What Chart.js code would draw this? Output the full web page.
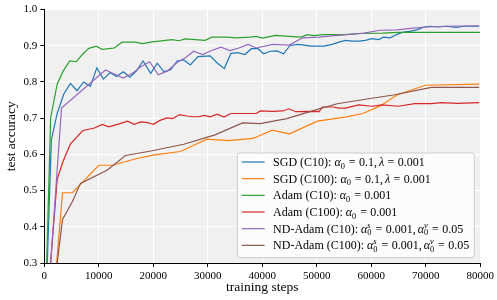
<!DOCTYPE html>
<html>
<head>
<meta charset="utf-8">
<script src="https://cdn.jsdelivr.net/npm/chart.js@4.4.1/dist/chart.umd.min.js"></script>
<style>
  html, body { margin: 0; padding: 0; background: #fff; }
  #wrap { width: 497px; height: 300px; }
</style>
</head>
<body>
<div id="wrap"><canvas id="accChart" width="497" height="300"></canvas></div>
<script>
// --- data ---
const sgdC10Steps = [0, 1300, 2360, 3580, 4800, 6000, 7220, 8440, 9640, 10850, 12070, 13270, 14490, 15710, 16910, 18130, 19530, 20730, 21940, 23160, 24360, 25580, 26800, 28180, 30430, 31630, 33030, 34250, 35450, 36800, 38000, 39220, 40250, 41450, 42670, 43890, 45090, 46490, 47700, 48900, 51340, 52850, 54070, 55270, 56490, 57700, 58900, 60120, 61340, 62250, 63450, 64670, 65880, 67090, 68300, 69520, 70720, 72250, 73760, 75580, 77090, 79800];
const sgdC10Acc = [0.055, 0.64, 0.713, 0.767, 0.796, 0.776, 0.80, 0.788, 0.839, 0.808, 0.826, 0.815, 0.828, 0.813, 0.831, 0.858, 0.824, 0.852, 0.829, 0.833, 0.858, 0.861, 0.847, 0.87, 0.872, 0.854, 0.837, 0.879, 0.881, 0.876, 0.892, 0.892, 0.878, 0.885, 0.886, 0.878, 0.901, 0.904, 0.902, 0.899, 0.899, 0.904, 0.91, 0.915, 0.913, 0.913, 0.915, 0.92, 0.917, 0.924, 0.922, 0.931, 0.938, 0.94, 0.944, 0.951, 0.954, 0.952, 0.954, 0.951, 0.954, 0.954];

const sgdC100Steps = [1160, 3340, 5160, 10000, 12540, 16800, 19940, 24980, 29820, 33760, 38300, 41810, 44980, 50120, 55200, 58450, 61630, 64800, 69940, 79800];
const sgdC100Acc = [0.1, 0.494, 0.494, 0.57, 0.57, 0.588, 0.598, 0.608, 0.642, 0.638, 0.644, 0.667, 0.657, 0.692, 0.703, 0.713, 0.734, 0.765, 0.791, 0.794];

const adamC10Steps = [0, 1160, 2360, 3450, 4670, 5890, 6980, 8180, 9530, 10620, 12850, 14250, 16670, 18000, 19820, 22250, 23450, 24670, 25890, 29520, 30720, 33450, 35270, 37700, 38800, 40000, 42430, 44980, 47090, 48300, 49520, 51100, 55000, 58000, 62000, 65000, 80000];
const adamC10Acc = [0.06, 0.70, 0.794, 0.83, 0.858, 0.856, 0.876, 0.893, 0.899, 0.89, 0.894, 0.91, 0.91, 0.906, 0.911, 0.915, 0.917, 0.914, 0.919, 0.915, 0.924, 0.924, 0.922, 0.924, 0.926, 0.921, 0.929, 0.926, 0.924, 0.931, 0.928, 0.931, 0.931, 0.934, 0.935, 0.937, 0.937];

const adamC100Steps = [0, 2360, 3450, 4800, 7090, 9220, 10620, 11820, 13450, 15270, 16490, 17710, 18910, 20000, 21220, 22540, 23580, 24800, 26180, 27220, 28310, 29400, 30430, 31760, 32980, 34180, 38900, 39630, 41940, 43760, 44850, 46180, 48900, 50430, 51040, 53000, 54070, 55270, 57700, 60120, 61940, 64970, 67990, 71030, 72850, 75880, 79800];
const adamC100Acc = [0.077, 0.531, 0.581, 0.629, 0.666, 0.673, 0.683, 0.676, 0.683, 0.692, 0.683, 0.69, 0.688, 0.683, 0.694, 0.701, 0.699, 0.71, 0.706, 0.704, 0.704, 0.708, 0.704, 0.711, 0.703, 0.713, 0.713, 0.72, 0.719, 0.72, 0.726, 0.718, 0.719, 0.718, 0.731, 0.731, 0.728, 0.728, 0.737, 0.733, 0.737, 0.733, 0.74, 0.74, 0.743, 0.741, 0.743];

const ndAdamC10Steps = [0, 3160, 11220, 12850, 14490, 16180, 17710, 19340, 20910, 22540, 24360, 25890, 27400, 29030, 30720, 32430, 34070, 35700, 37400, 38900, 41940, 44980, 47400, 50430, 53160, 55580, 58610, 61630, 64670, 67700, 70120, 73760, 79800];
const ndAdamC10Acc = [0.05, 0.728, 0.833, 0.822, 0.811, 0.824, 0.842, 0.856, 0.82, 0.83, 0.854, 0.867, 0.885, 0.876, 0.887, 0.896, 0.887, 0.894, 0.904, 0.894, 0.904, 0.902, 0.922, 0.924, 0.928, 0.931, 0.935, 0.943, 0.944, 0.949, 0.952, 0.954, 0.955];

const ndAdamC100Steps = [1160, 3340, 5160, 6640, 11490, 14910, 19820, 25580, 31340, 36360, 39630, 44490, 49810, 53760, 59210, 64070, 71030, 79800];
const ndAdamC100Acc = [0.15, 0.42, 0.47, 0.52, 0.556, 0.597, 0.61, 0.628, 0.654, 0.687, 0.685, 0.699, 0.723, 0.74, 0.753, 0.764, 0.785, 0.785];

const seriesLabels = [
  'SGD (C10): $\\alpha_0 = 0.1, \\lambda = 0.001$',
  'SGD (C100): $\\alpha_0 = 0.1, \\lambda = 0.001$',
  'Adam (C10): $\\alpha_0 = 0.001$',
  'Adam (C100): $\\alpha_0 = 0.001$',
  'ND-Adam (C10): $\\alpha_0^s = 0.001, \\alpha_0^v = 0.05$',
  'ND-Adam (C100): $\\alpha_0^s = 0.001, \\alpha_0^v = 0.05$'
];
const seriesColors = ['#1f77b4', '#ff7f0e', '#2ca02c', '#d62728', '#9467bd', '#8c564b'];

const xTicks = [0, 10000, 20000, 30000, 40000, 50000, 60000, 70000, 80000];
const yTicks = [0.3, 0.4, 0.5, 0.6, 0.7, 0.8, 0.9, 1.0];

const SERIF = "'Liberation Serif', 'Times New Roman', serif";

function toPoints(steps, acc) {
  return steps.map((s, i) => ({ x: s, y: acc[i] }));
}

const allSeries = [
  [sgdC10Steps, sgdC10Acc],
  [sgdC100Steps, sgdC100Acc],
  [adamC10Steps, adamC10Acc],
  [adamC100Steps, adamC100Acc],
  [ndAdamC10Steps, ndAdamC10Acc],
  [ndAdamC100Steps, ndAdamC100Acc]
];

const datasets = allSeries.map(([s, a], i) => ({
  label: seriesLabels[i],
  data: toPoints(s, a),
  borderColor: seriesColors[i],
  backgroundColor: seriesColors[i],
  borderWidth: 1.2,
  pointRadius: 0,
  tension: 0,
  fill: false,
  order: allSeries.length - 1 - i // later series on top, like matplotlib
}));

// --- tiny math-ish label renderer for the legend ---
function parseLabel(str) {
  const out = [];
  str.split('$').forEach((part, k) => {
    if (k % 2 === 0) {
      if (part) out.push({ text: part, italic: false });
      return;
    }
    let i = 0;
    while (i < part.length) {
      const c = part[i];
      if (c === ' ') { i++; continue; }
      if (c === '\\') {
        const name = part.slice(i + 1).match(/^[a-z]+/)[0];
        out.push({ text: name === 'alpha' ? 'α' : 'λ', italic: true });
        i += 1 + name.length;
        continue;
      }
      if (c === '_' || c === '^') {
        const box = { stack: true, sub: null, sup: null };
        while (i < part.length && (part[i] === '_' || part[i] === '^')) {
          box[part[i] === '_' ? 'sub' : 'sup'] = part[i + 1];
          i += 2;
        }
        out.push(box);
        continue;
      }
      if (c === '=') {
        out.push({ space: 0.28 }, { text: '=', italic: false }, { space: 0.28 });
        i++; continue;
      }
      if (c === ',') {
        out.push({ text: ',', italic: false }, { space: 0.17 });
        i++; continue;
      }
      let j = i;
      while (j < part.length && /[0-9.]/.test(part[j])) j++;
      if (j > i) { out.push({ text: part.slice(i, j), italic: false }); i = j; continue; }
      out.push({ text: c, italic: true });
      i++;
    }
  });
  return out;
}

function fontStr(italic, px) {
  return (italic ? 'italic ' : '') + px + 'px ' + SERIF;
}

function drawRich(ctx, boxes, x, y, size, measureOnly) {
  let cx = x;
  for (const b of boxes) {
    if (b.space !== undefined) { cx += b.space * size; continue; }
    if (b.stack) {
      const s = size * 0.7;
      let w = 0;
      if (b.sub) {
        ctx.font = fontStr(/[a-z]/.test(b.sub), s);
        if (!measureOnly) ctx.fillText(b.sub, cx, y + size * 0.22);
        w = Math.max(w, ctx.measureText(b.sub).width);
      }
      if (b.sup) {
        ctx.font = fontStr(/[a-z]/.test(b.sup), s);
        if (!measureOnly) ctx.fillText(b.sup, cx, y - size * 0.4);
        w = Math.max(w, ctx.measureText(b.sup).width);
      }
      cx += w + 0.05 * size;
      continue;
    }
    ctx.font = fontStr(b.italic, size);
    if (!measureOnly) ctx.fillText(b.text, cx, y);
    cx += ctx.measureText(b.text).width;
  }
  return cx - x;
}

const plotBackground = {
  id: 'plotBackground',
  beforeDraw(chart) {
    const { ctx, chartArea: a } = chart;
    ctx.save();
    ctx.fillStyle = '#f0f0f0';
    ctx.fillRect(a.left, a.top, a.right - a.left, a.bottom - a.top);
    ctx.restore();
  }
};

// legend drawn by hand so the math labels look right
const mathLegend = {
  id: 'mathLegend',
  afterDraw(chart) {
    const { ctx, chartArea: a } = chart;
    const size = 12;
    const rowH = 16.67;
    const lineLen = 23, gap = 8.4, padL = 4.3, padR = 5;
    const parsed = seriesLabels.map(parseLabel);

    ctx.save();
    ctx.textBaseline = 'alphabetic';
    ctx.textAlign = 'left';
    let maxW = 0;
    parsed.forEach(p => { maxW = Math.max(maxW, drawRich(ctx, p, 0, 0, size, true)); });

    const boxW = padL + lineLen + gap + maxW + padR;
    const boxH = 104.6;
    const right = a.right - 6;
    const bottom = a.bottom - 5.4;
    const left = right - boxW;
    const top = bottom - boxH;

    // frame
    const r = 2.5;
    ctx.beginPath();
    ctx.moveTo(left + r, top);
    ctx.arcTo(right, top, right, bottom, r);
    ctx.arcTo(right, bottom, left, bottom, r);
    ctx.arcTo(left, bottom, left, top, r);
    ctx.arcTo(left, top, right, top, r);
    ctx.closePath();
    ctx.fillStyle = 'rgba(255,255,255,0.8)';
    ctx.fill();
    ctx.strokeStyle = '#cccccc';
    ctx.lineWidth = 1;
    ctx.stroke();

    parsed.forEach((p, i) => {
      const cy = top + 9 + i * rowH;
      ctx.strokeStyle = seriesColors[i];
      ctx.lineWidth = 1.2;
      ctx.beginPath();
      ctx.moveTo(left + padL, cy);
      ctx.lineTo(left + padL + lineLen, cy);
      ctx.stroke();
      ctx.fillStyle = '#000';
      drawRich(ctx, p, left + padL + lineLen + gap, cy + 3.9, size, false);
    });
    ctx.restore();
  }
};

const tickFont = { family: SERIF, size: 11 };

new Chart(document.getElementById('accChart'), {
  type: 'line',
  data: { datasets },
  options: {
    responsive: false,
    animation: false,
    layout: { padding: { top: 6, right: 14, left: 0, bottom: 0 } },
    plugins: {
      legend: { display: false },
      tooltip: { enabled: false }
    },
    scales: {
      x: {
        type: 'linear',
        min: xTicks[0],
        max: xTicks[xTicks.length - 1],
        afterBuildTicks: s => { s.ticks = xTicks.map(v => ({ value: v })); },
        afterFit: s => { s.height = 37; },
        ticks: {
          autoSkip: false, maxRotation: 0, padding: 3,
          color: '#000', font: tickFont,
          callback: v => String(v)
        },
        grid: { color: '#ffffff', lineWidth: 1, tickColor: '#000', tickLength: 4 },
        border: { color: '#000', width: 1, z: 1 },
        title: {
          display: true, text: 'training steps', color: '#000',
          font: { family: SERIF, size: 13.5 }, padding: { top: 0, bottom: 4 }
        }
      },
      y: {
        min: yTicks[0],
        max: yTicks[yTicks.length - 1],
        afterBuildTicks: s => { s.ticks = yTicks.map(v => ({ value: v })); },
        afterFit: s => { s.width = 44.3; },
        ticks: {
          padding: 3, color: '#000', font: tickFont,
          callback: v => Number(v).toFixed(1)
        },
        grid: { color: '#ffffff', lineWidth: 1, tickColor: '#000', tickLength: 4 },
        border: { color: '#000', width: 1, z: 1 },
        title: {
          display: true, text: 'test accuracy', color: '#000',
          font: { family: SERIF, size: 13.5 }, padding: { top: 3, bottom: 0 }
        }
      }
    }
  },
  plugins: [plotBackground, mathLegend]
});
</script>
</body>
</html>
